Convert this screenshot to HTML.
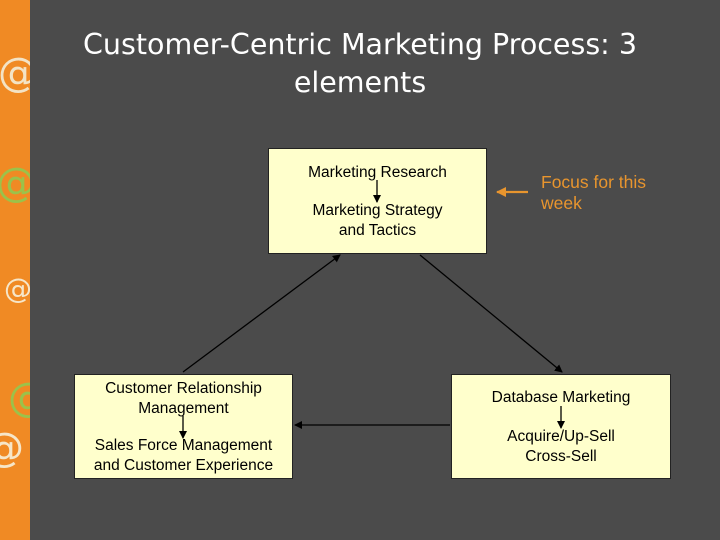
<!DOCTYPE html>
<html><head><style>
body{margin:0;width:720px;height:540px;background:#4b4b4b;position:relative;overflow:hidden;font-family:"Liberation Sans",sans-serif}
.strip{position:absolute;left:0;top:0;width:30px;height:540px;background:#f08a24;overflow:hidden}
.at{position:absolute;font-size:40px;color:#f6e6c8;font-family:"DejaVu Sans",sans-serif}
.title{position:absolute;left:30px;width:660px;top:26px;text-align:center;color:#fff;font-family:"DejaVu Sans",sans-serif;font-size:28.5px;line-height:38px}
.box{position:absolute;background:#ffffcc;border:1px solid #222;color:#000;font-size:15.5px;text-align:center;box-sizing:border-box}
.t{position:absolute;left:0;width:100%;line-height:19.5px}
</style></head><body>
<div class="strip">
<div class="at" style="left:-2px;top:50px;color:#f3e3c5">@</div>
<div class="at" style="left:-4px;top:160px;color:#9bc24a">@</div>
<div class="at" style="left:4px;top:272px;font-size:28px">@</div>
<div class="at" style="left:8px;top:375px;color:#9bc24a">@</div>
<div class="at" style="left:-16px;top:425px">@</div>
</div>
<div class="title">Customer-Centric Marketing Process: 3<br>elements</div>

<div class="box" style="left:268px;top:148px;width:219px;height:106px">
<div class="t" style="top:14px">Marketing Research</div>
<div class="t" style="top:52px">Marketing Strategy<br>and Tactics</div>
</div>
<div class="box" style="left:74px;top:374px;width:219px;height:105px">
<div class="t" style="top:4px">Customer Relationship<br>Management</div>
<div class="t" style="top:61px">Sales Force Management<br>and Customer Experience</div>
</div>
<div class="box" style="left:451px;top:374px;width:220px;height:105px">
<div class="t" style="top:13px">Database Marketing</div>
<div class="t" style="top:52px">Acquire/Up-Sell<br>Cross-Sell</div>
</div>
<div style="position:absolute;left:541px;top:172px;color:#e8952e;font-size:17.5px;line-height:21px">Focus for this<br>week</div>

<svg width="720" height="540" style="position:absolute;left:0;top:0">
<defs><marker id="a" markerWidth="8" markerHeight="8" refX="7" refY="4" orient="auto" markerUnits="userSpaceOnUse"><path d="M0,0L8,4L0,8z" fill="#000"/></marker>
<marker id="o" markerWidth="10" markerHeight="10" refX="9" refY="5" orient="auto" markerUnits="userSpaceOnUse"><path d="M0,0L10,5L0,10z" fill="#e8952e"/></marker></defs>
<g stroke="#000" stroke-width="1.3">
<line x1="377" y1="180" x2="377" y2="202" marker-end="url(#a)"/>
<line x1="183" y1="416" x2="183" y2="438" marker-end="url(#a)"/>
<line x1="561" y1="406" x2="561" y2="428" marker-end="url(#a)"/>
<line x1="183" y1="372" x2="340" y2="255" marker-end="url(#a)"/>
<line x1="420" y1="255" x2="562" y2="372" marker-end="url(#a)"/>
<line x1="450" y1="425" x2="295" y2="425" marker-end="url(#a)"/>
</g>
<line x1="528" y1="192" x2="497" y2="192" stroke="#e8952e" stroke-width="2.2" marker-end="url(#o)"/>
</svg>
</body></html>
